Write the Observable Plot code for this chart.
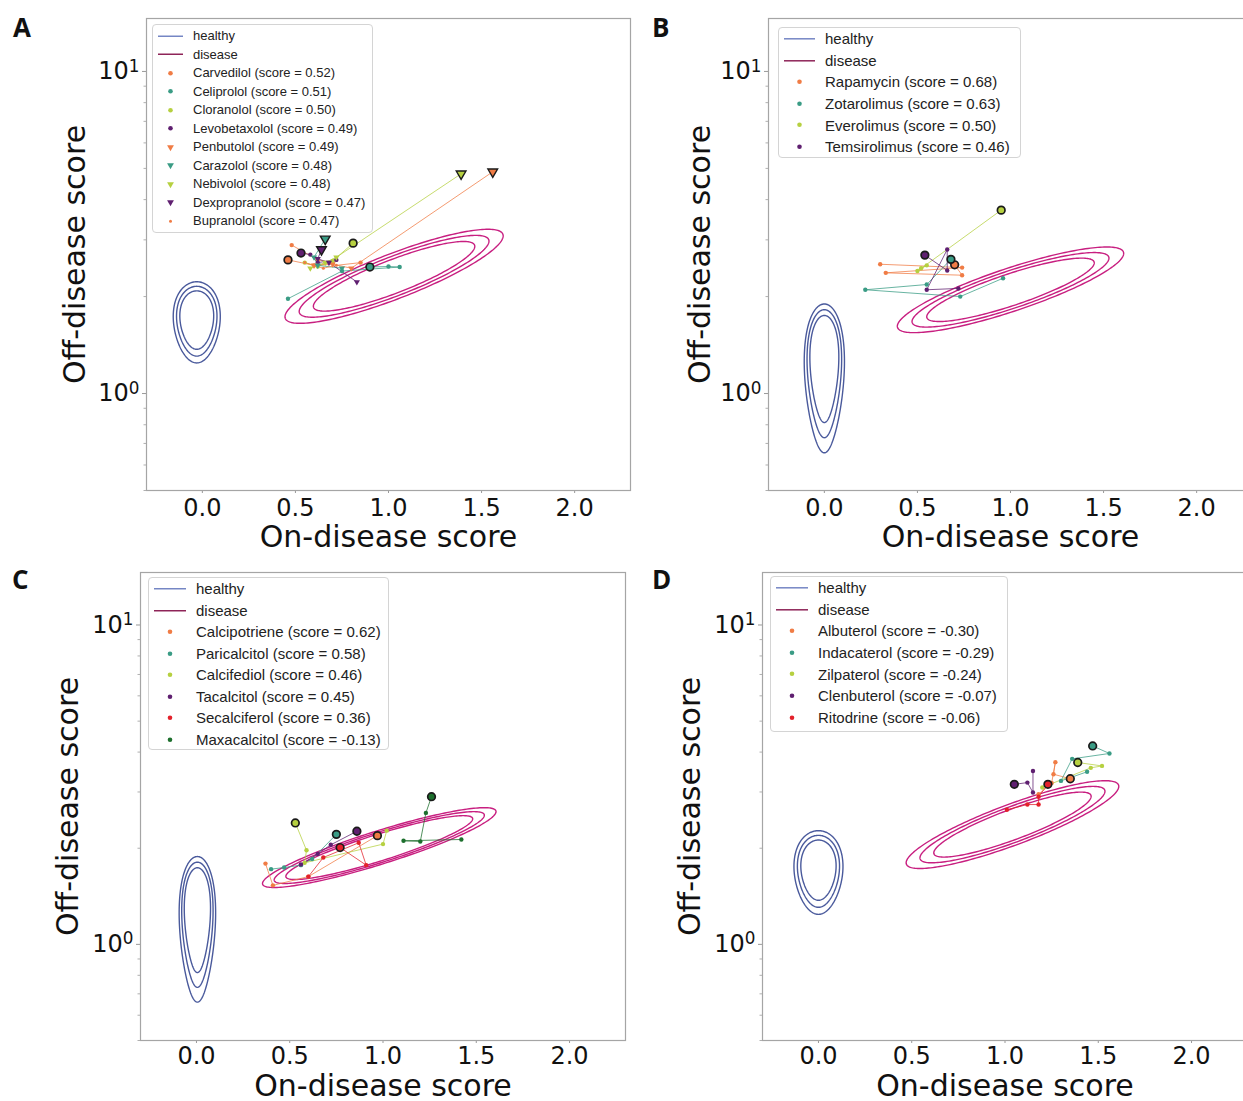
<!DOCTYPE html>
<html><head><meta charset="utf-8">
<script src="https://cdn.jsdelivr.net/npm/d3@7"></script>
<script src="https://cdn.jsdelivr.net/npm/@observablehq/plot@0.6"></script>
<style>
body{margin:0;background:#fff;width:1243px;height:1101px;overflow:hidden;position:relative;font-family:"DejaVu Sans",sans-serif;}
.panel{position:absolute;}
.panel svg{max-width:none !important;}
.letter{position:absolute;font-family:"Open Sans","DejaVu Sans",sans-serif;font-weight:bold;font-size:26px;color:#111;line-height:1;}
.legend{position:absolute;box-sizing:border-box;background:rgba(255,255,255,0.9);border:1px solid #d4d4d4;border-radius:4px;font-family:"Liberation Sans",Arial,sans-serif;color:#222;}
.legend .row{display:flex;align-items:center;white-space:nowrap;}
.legend svg{flex:none;}
</style></head><body>
<script>
// ---------- data ----------
const xTicks = [0, 0.5, 1.0, 1.5, 2.0];
const yMajor = [1, 10];
const yMajorLabels = ["10⁰", "10¹"];
const yMinor = [0.5, 0.6, 0.7, 0.8, 0.9, 2, 3, 4, 5, 6, 7, 8, 9];
const seriesLabels = ["healthy", "disease"];

const drugsA = ["Carvedilol","Celiprolol","Cloranolol","Levobetaxolol","Penbutolol","Carazolol","Nebivolol","Dexpropranolol","Bupranolol"];
const scoresA = [0.52, 0.51, 0.50, 0.49, 0.49, 0.48, 0.48, 0.47, 0.47];
const pathsA = [
  [[0.48,2.89],[0.62,2.60],[0.70,2.55],[0.60,2.50],[0.46,2.60]],
  [[0.46,1.97],[0.75,2.40],[1.06,2.47],[1.00,2.48],[0.90,2.47]],
  [[0.55,2.55],[0.62,2.48],[0.70,2.58],[0.81,2.93]],
  [[0.72,2.60],[0.62,2.55],[0.58,2.70],[0.53,2.73]],
  [[0.60,2.50],[0.70,2.52],[0.80,2.45],[1.56,4.88]],
  [[0.75,2.45],[0.62,2.50],[0.60,2.65],[0.66,3.02]],
  [[0.58,2.45],[0.66,2.55],[0.72,2.65],[1.39,4.81]],
  [[0.83,2.22],[0.68,2.55],[0.62,2.62],[0.64,2.80]],
  [[0.55,2.55],[0.65,2.45],[0.72,2.50],[0.85,2.55]]
];
const drugsB = ["Rapamycin","Zotarolimus","Everolimus","Temsirolimus"];
const scoresB = [0.68, 0.63, 0.50, 0.46];
const pathsB = [
  [[0.30,2.52],[0.74,2.46],[0.33,2.37],[0.74,2.33],[0.70,2.51]],
  [[0.96,2.28],[0.73,2.00],[0.22,2.10],[0.55,2.18],[0.68,2.61]],
  [[0.52,2.45],[0.55,2.50],[0.50,2.40],[0.95,3.71]],
  [[0.72,2.12],[0.55,2.10],[0.66,2.80],[0.66,2.41],[0.54,2.69]]
];
const drugsC = ["Calcipotriene","Paricalcitol","Calcifediol","Tacalcitol","Secalciferol","Maxacalcitol"];
const scoresC = [0.62, 0.58, 0.46, 0.45, 0.36, -0.13];
const pathsC = [
  [[0.37,1.79],[0.41,1.53],[0.60,1.63],[0.97,2.19]],
  [[0.40,1.72],[0.47,1.74],[0.56,1.77],[0.62,1.85],[0.75,2.21]],
  [[1.02,2.27],[1.00,2.06],[0.58,1.80],[0.59,1.97],[0.53,2.40]],
  [[0.56,1.78],[0.65,1.92],[0.72,2.05],[0.86,2.26]],
  [[0.60,1.63],[0.68,1.87],[0.87,2.08],[0.91,1.77],[0.77,2.01]],
  [[1.42,2.13],[1.11,2.11],[1.20,2.10],[1.23,2.58],[1.26,2.90]]
];
const drugsD = ["Albuterol","Indacaterol","Zilpaterol","Clenbuterol","Ritodrine"];
const scoresD = [-0.30, -0.29, -0.24, -0.07, -0.06];
const pathsD = [
  [[1.18,2.95],[1.25,3.20],[1.27,3.72],[1.26,3.41],[1.35,3.30]],
  [[1.44,3.47],[1.30,3.25],[1.36,3.81],[1.56,3.96],[1.47,4.18]],
  [[1.20,3.10],[1.46,3.57],[1.52,3.62],[1.39,3.71]],
  [[1.15,3.49],[1.15,2.99],[1.12,3.21],[1.05,3.17]],
  [[1.01,2.64],[1.12,2.74],[1.18,2.74],[1.18,2.90],[1.23,3.17]]
];
// contour (density ellipse) parameters: centre x, centre log10(y), spread x, spread log10(y)
const healthyA = {cx:-0.03, cly:0.221, sx:0.125, sy:0.126, k:0.15, shift:0.2};
const healthyB = {cx:0.0, cly:0.047, sx:0.105, sy:0.231, k:0.25, shift:0.45};
const healthyC = {cx:0.005, cly:0.047, sx:0.095, sy:0.228, k:0.25, shift:0.45};
const healthyD = {cx:0.0, cly:0.225, sx:0.13, sy:0.131, k:0.15, shift:0.2};
const diseaseA = {cx:1.03, cly:0.364, sx:0.586, sy:0.146, rho:0.86};
const diseaseB = {cx:1.00, cly:0.322, sx:0.608, sy:0.133, rho:0.85};
const diseaseC = {cx:0.98, cly:0.303, sx:0.626, sy:0.125, rho:0.90};
const diseaseD = {cx:1.04, cly:0.375, sx:0.570, sy:0.1375, rho:0.87};
const healthyLevels = [1, 0.86, 0.72];
const diseaseLevels = [1, 0.87, 0.74];
const diseaseLevelsC = [1, 0.9, 0.8];

// ---------- styles ----------
const pal = {orange:"#f07c45", teal:"#3a9c85", lime:"#b6d040", purple:"#5f1f70", red:"#e3212b", green:"#1d6f2d"};
const colorsA = ["orange","teal","lime","purple","orange","teal","lime","purple","orange"];
const shapesA = ["o","o","o","o","v","v","v","v","."];
const colorsB = ["orange","teal","lime","purple"];
const colorsC = ["orange","teal","lime","purple","red","green"];
const colorsD = ["orange","teal","lime","purple","red"];
const healthyColor = "#4a5a9c", diseaseColor = "#c81f80";
const healthyLegend = "#7586c4", diseaseLegend = "#8e2458";

const triDown = {draw(ctx, size){const y=-Math.sqrt(size/(Math.sqrt(3)*3));const s3=Math.sqrt(3);ctx.moveTo(0,-2*y);ctx.lineTo(-s3*y,y);ctx.lineTo(s3*y,y);ctx.closePath();}};

function healthyRings(p){
  const out=[];
  healthyLevels.forEach((s,li)=>{
    for(let i=0;i<=160;i++){
      const t=2*Math.PI*i/160;
      const x=p.cx+p.sx*s*Math.cos(t)*(1+p.k*Math.sin(t));
      const ly=p.cly+(1-s)*p.sy*p.shift+p.sy*s*Math.sin(t);
      out.push({x,y:Math.pow(10,ly),ring:li});
    }
  });
  return out;
}
function diseaseRings(p,levels){
  const out=[];
  levels.forEach((s,li)=>{
    for(let i=0;i<=200;i++){
      const t=2*Math.PI*i/200;
      const x=p.cx+p.sx*s*Math.cos(t);
      const ly=p.cly+p.sy*s*(p.rho*Math.cos(t)+Math.sqrt(1-p.rho*p.rho)*Math.sin(t));
      out.push({x,y:Math.pow(10,ly),ring:li});
    }
  });
  return out;
}

const panels = [
  {letter:"A", left:0, top:0, mL:146, mT:18, fw:484, fh:472, drugs:drugsA, scores:scoresA, paths:pathsA, colors:colorsA, shapes:shapesA, healthy:healthyA, disease:diseaseA, dl:diseaseLevels,
   lg:{left:152, top:24, w:221, h:209, font:13, row:18.5, pt:1.5, textX:41}, lx:13, ly:14, ylabDx:-71, xlabDy:47, tp:5},
  {letter:"B", left:622, top:0, mL:146, mT:18, fw:484, fh:472, drugs:drugsB, scores:scoresB, paths:pathsB, colors:colorsB, shapes:colorsB.map(()=>"o"), healthy:healthyB, disease:diseaseB, dl:diseaseLevels,
   lg:{left:778, top:27, w:243, h:131, font:15, row:21.6, pt:0, textX:47}, lx:652, ly:14, ylabDx:-68, xlabDy:47, tp:5},
  {letter:"C", left:0, top:552, mL:140, mT:20, fw:485, fh:468, drugs:drugsC, scores:scoresC, paths:pathsC, colors:colorsC, shapes:colorsC.map(()=>"o"), healthy:healthyC, disease:diseaseC, dl:diseaseLevelsC,
   lg:{left:148, top:577, w:241, h:173, font:15, row:21.5, pt:0, textX:48}, lx:12, ly:566, ylabDx:-72, xlabDy:46, tp:3},
  {letter:"D", left:622, top:552, mL:140, mT:20, fw:485, fh:468, drugs:drugsD, scores:scoresD, paths:pathsD, colors:colorsD, shapes:colorsD.map(()=>"o"), healthy:healthyD, disease:diseaseD, dl:diseaseLevels,
   lg:{left:770, top:576, w:238, h:156, font:15, row:21.6, pt:0, textX:48}, lx:652, ly:566, ylabDx:-72, xlabDy:46, tp:3}
];

function makePlot(p){
  const rows = p.paths.flatMap((pts,i)=>pts.map(([x,y],j)=>({x,y,i,color:pal[p.colors[i]],shape:p.shapes[i],end:j===pts.length-1})));
  const sel=(shape,end)=>rows.filter(d=>d.shape===shape && d.end===end);
  const mR=10, mB=75;
  const svg = Plot.plot({
    width:p.mL+p.fw+mR, height:p.mT+p.fh+mB,
    marginLeft:p.mL, marginTop:p.mT, marginRight:mR, marginBottom:mB,
    x:{domain:[-0.3,2.3]},
    y:{type:"log", domain:[0.5,14.6]},
    color:{type:"identity"},
    style:{fontFamily:"'DejaVu Sans', sans-serif", background:"transparent", overflow:"visible", color:"#111", maxWidth:"none"},
    marks:[
      Plot.axisY({ticks:yMinor, tickFormat:()=>"", tickSize:2.5, stroke:"#b0b0b0", label:null}),
      Plot.axisX({ticks:xTicks, tickFormat:d=>d.toFixed(1), tickSize:3, tickPadding:p.tp, fontSize:24, stroke:"#999", fill:"#111", label:null}),
      Plot.axisY({ticks:yMajor, tickFormat:d=>yMajorLabels[yMajor.indexOf(d)], tickSize:4, tickPadding:3, fontSize:24, stroke:"#999", fill:"#111", label:null}),
      Plot.frame({stroke:"#a5a5a5", strokeWidth:1.2}),
      Plot.line(healthyRings(p.healthy), {x:"x", y:"y", z:"ring", stroke:healthyColor, strokeWidth:1.4}),
      Plot.line(diseaseRings(p.disease,p.dl), {x:"x", y:"y", z:"ring", stroke:diseaseColor, strokeWidth:1.4}),
      Plot.line(rows, {x:"x", y:"y", z:"i", stroke:"color", strokeWidth:0.9, strokeOpacity:0.85}),
      Plot.dot(sel("o",false), {x:"x", y:"y", r:2.2, fill:"color"}),
      Plot.dot(sel("v",false), {x:"x", y:"y", r:2.3, fill:"color", symbol:triDown}),
      Plot.dot(sel(".",false), {x:"x", y:"y", r:1.5, fill:"color"}),
      Plot.dot(sel("o",true), {x:"x", y:"y", r:3.8, fill:"color", stroke:"#1a1a1a", strokeWidth:1.7}),
      Plot.dot(sel("v",true), {x:"x", y:"y", r:3.6, fill:"color", stroke:"#1a1a1a", strokeWidth:1.4, symbol:triDown}),
      Plot.dot(sel(".",true), {x:"x", y:"y", r:2.2, fill:"color"}),
      Plot.text(["On-disease score"], {frameAnchor:"bottom", dy:p.xlabDy, fontSize:30, fill:"#111", lineAnchor:"middle", textAnchor:"middle"}),
      Plot.text(["Off-disease score"], {frameAnchor:"left", dx:p.ylabDx, rotate:-90, fontSize:30, fill:"#111", lineAnchor:"middle", textAnchor:"middle"})
    ]
  });
  // render the decade labels as 10 with a raised exponent
  d3.select(svg).selectAll("text").each(function(){
    const t=this.textContent;
    const k=yMajorLabels.indexOf(t);
    if(k>=0){
      const exp=String(Math.round(Math.log10(yMajor[k])));
      const sel=d3.select(this);
      sel.text(null);
      sel.append("tspan").text("10");
      sel.append("tspan").attr("dy","-0.45em").attr("font-size","0.7em").text(exp);
    }
  });
  return svg;
}

function legendSymbol(kind, color, w, h){
  const svg=d3.create("svg").attr("width",w).attr("height",h);
  const cx=w/2, cy=h/2;
  if(kind==="line"){
    svg.append("line").attr("x1",2).attr("x2",w-2).attr("y1",cy).attr("y2",cy).attr("stroke",color).attr("stroke-width",1.5);
  } else if(kind==="o"){
    svg.append("circle").attr("cx",cx).attr("cy",cy).attr("r",2.3).attr("fill",color);
  } else if(kind==="v"){
    svg.append("path").attr("transform",`translate(${cx},${cy})`).attr("d",d3.symbol(triDown,20)()).attr("fill",color);
  } else {
    svg.append("circle").attr("cx",cx).attr("cy",cy).attr("r",1.5).attr("fill",color);
  }
  return svg.node();
}

for(const p of panels){
  const div=document.createElement("div");
  div.className="panel"; div.style.left=p.left+"px"; div.style.top=p.top+"px";
  div.style.width=(p.mL+p.fw+10)+"px";
  div.appendChild(makePlot(p));
  document.body.appendChild(div);

  const L=document.createElement("div");
  L.className="letter"; L.textContent=p.letter; L.style.left=p.lx+"px"; L.style.top=p.ly+"px";
  document.body.appendChild(L);

  const g=p.lg;
  const lg=document.createElement("div");
  lg.className="legend";
  Object.assign(lg.style,{left:g.left+"px",top:g.top+"px",width:g.w+"px",height:g.h+"px",fontSize:g.font+"px",paddingTop:g.pt+"px"});
  const symW=g.textX-4-8;
  const entries=[
    {kind:"line", color:healthyLegend, text:seriesLabels[0]},
    {kind:"line", color:diseaseLegend, text:seriesLabels[1]},
    ...p.drugs.map((d,i)=>({kind:p.shapes[i], color:pal[p.colors[i]], text:`${d} (score = ${p.scores[i].toFixed(2)})`}))
  ];
  for(const e of entries){
    const r=document.createElement("div");
    r.className="row"; r.style.height=g.row+"px";
    const s=legendSymbol(e.kind,e.color,symW,g.row);
    s.style.marginLeft="3px"; s.style.marginRight="8px";
    r.appendChild(s);
    const t=document.createElement("span"); t.textContent=e.text;
    r.appendChild(t);
    lg.appendChild(r);
  }
  document.body.appendChild(lg);
}
</script>
</body></html>
